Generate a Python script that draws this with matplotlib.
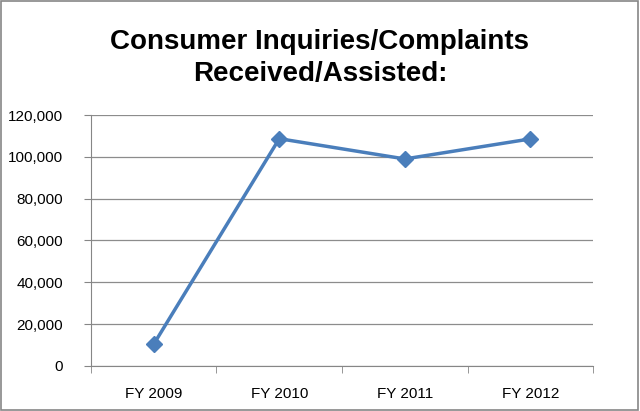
import matplotlib.pyplot as plt
from matplotlib.ticker import FuncFormatter, FixedLocator
from matplotlib.patches import Rectangle

years = ['FY 2009', 'FY 2010', 'FY 2011', 'FY 2012']
inquiries = [10300, 108700, 99000, 108600]

plt.rcParams['font.family'] = ['Liberation Sans', 'DejaVu Sans']

fig = plt.figure(figsize=(6.4, 4.11), dpi=100)
ax = fig.add_axes([0.142, 0.11, 0.785, 0.61])

x = list(range(len(years)))
ax.plot(x, inquiries, color='#4a7ebb', linewidth=2.5, marker='D', markersize=8, zorder=3)

ax.set_xlim(-0.5, 3.5)
ax.set_ylim(0, 120000)
ax.set_yticks(range(0, 120001, 20000))
ax.yaxis.set_major_formatter(FuncFormatter(lambda v, p: '{:,.0f}'.format(v)))
ax.set_xticks(x)
ax.set_xticklabels(years)
ax.xaxis.set_minor_locator(FixedLocator([-0.5, 0.5, 1.5, 2.5, 3.5]))
ax.tick_params(axis='x', which='major', length=0, pad=15, labelsize=11)
ax.tick_params(axis='x', which='minor', length=5, color='#868686')
ax.tick_params(axis='y', length=5, color='#868686', labelsize=11, pad=15)

ax.grid(axis='y', color='#8c8c8c', linewidth=0.9)
ax.set_axisbelow(True)
for s in ['top', 'right']:
    ax.spines[s].set_visible(False)
for s in ['left', 'bottom']:
    ax.spines[s].set_color('#868686')

fig.text(0.5, 0.858, 'Consumer Inquiries/Complaints\nReceived/Assisted:', ha='center', va='center',
         fontsize=20, fontweight='bold', linespacing=1.3)

fig.patches.append(Rectangle((0.002, 0.003), 0.995, 0.994, transform=fig.transFigure,
                             fill=False, edgecolor='#868686', linewidth=1.2))

plt.savefig('out.png', dpi=100)
